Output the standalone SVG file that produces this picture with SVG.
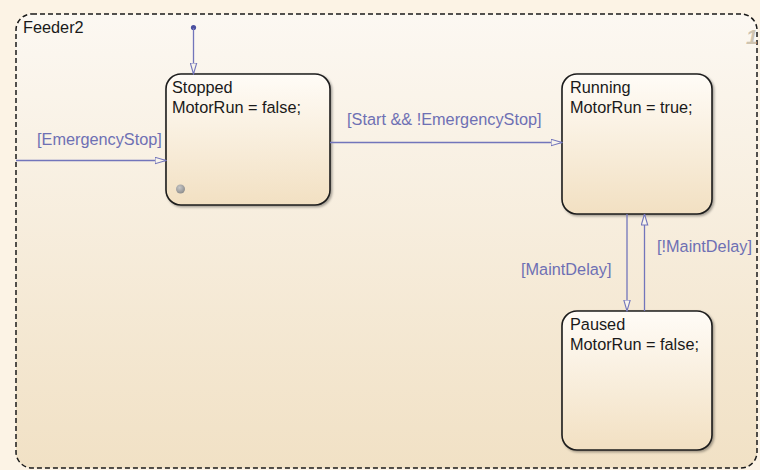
<svg xmlns="http://www.w3.org/2000/svg" width="760" height="470" viewBox="0 0 760 470">
<defs>
<linearGradient id="chartFill" x1="0" y1="0" x2="0" y2="1">
<stop offset="0" stop-color="#fcf8f2"/>
<stop offset="1" stop-color="#f1e1c5"/>
</linearGradient>
<linearGradient id="stateFill" x1="0" y1="0" x2="0" y2="1">
<stop offset="0" stop-color="#fffcf7"/>
<stop offset="1" stop-color="#f2e0c2"/>
</linearGradient>
<radialGradient id="dotFill" cx="0.4" cy="0.35" r="0.7">
<stop offset="0" stop-color="#c8c8c8"/>
<stop offset="1" stop-color="#8a8a8a"/>
</radialGradient>
<filter id="shadow" x="-10%" y="-10%" width="125%" height="125%">
<feDropShadow dx="1.5" dy="1.5" stdDeviation="1.2" flood-color="#000" flood-opacity="0.35"/>
</filter>
<marker id="arrow" viewBox="0 0 12 8" refX="11.5" refY="4" markerWidth="12" markerHeight="8" markerUnits="userSpaceOnUse" orient="auto">
<path d="M0.5,0.8 L11.5,4 L0.5,7.2 Z" fill="#f8f4ec" stroke="#7275bb" stroke-width="1.1"/>
</marker>
</defs>
<style>
text{font-family:"Liberation Sans",Arial,sans-serif;font-size:16.3px}
.st{fill:#1a1a1a}
.lbl{fill:#6e70b4}
.state{fill:url(#stateFill);stroke:#1c1c1c;stroke-width:1.6;filter:url(#shadow)}
.tr{fill:none;stroke:#7275bb;stroke-width:1.3;marker-end:url(#arrow)}
</style>
<rect x="0" y="0" width="760" height="470" fill="#fcf3e5"/>
<g id="Feeder2">
<rect x="16" y="14" width="741" height="454" rx="16" fill="url(#chartFill)" stroke="#1a1a1a" stroke-width="1.5" stroke-dasharray="5,3"/>
<text x="23" y="33" class="st">Feeder2</text>
<text x="746" y="44" style="font-size:21px;font-style:italic;font-weight:bold;fill:#cfc4b0">1</text>
</g>
<g id="Stopped">
<rect x="166" y="74" width="164" height="131" rx="15" class="state"/>
<text x="172" y="93" class="st">Stopped</text>
<text x="172" y="113" class="st">MotorRun = false;</text>
<circle cx="180.5" cy="189" r="4.5" fill="url(#dotFill)"/>
</g>
<g id="Running">
<rect x="562" y="74" width="150" height="140" rx="15" class="state"/>
<text x="570" y="93" class="st">Running</text>
<text x="570" y="113" class="st">MotorRun = true;</text>
</g>
<g id="Paused">
<rect x="562" y="311" width="150" height="139" rx="15" class="state"/>
<text x="570" y="330" class="st">Paused</text>
<text x="570" y="350" class="st">MotorRun = false;</text>
</g>
<g id="connectors">
<circle cx="193.5" cy="27.5" r="2.6" fill="#4a4f9e"/>
<line x1="193.5" y1="28" x2="193.5" y2="74" class="tr"/>
<line x1="16" y1="160.5" x2="166" y2="160.5" class="tr"/>
<text x="37" y="145" class="lbl">[EmergencyStop]</text>
<line x1="330" y1="142.5" x2="562" y2="142.5" class="tr"/>
<text x="347" y="125" class="lbl">[Start &amp;&amp; !EmergencyStop]</text>
<line x1="627" y1="214" x2="627" y2="311" class="tr"/>
<text x="521" y="275" class="lbl">[MaintDelay]</text>
<line x1="644.5" y1="311" x2="644.5" y2="214" class="tr"/>
<text x="657" y="252" class="lbl">[!MaintDelay]</text>
</g>
</svg>
